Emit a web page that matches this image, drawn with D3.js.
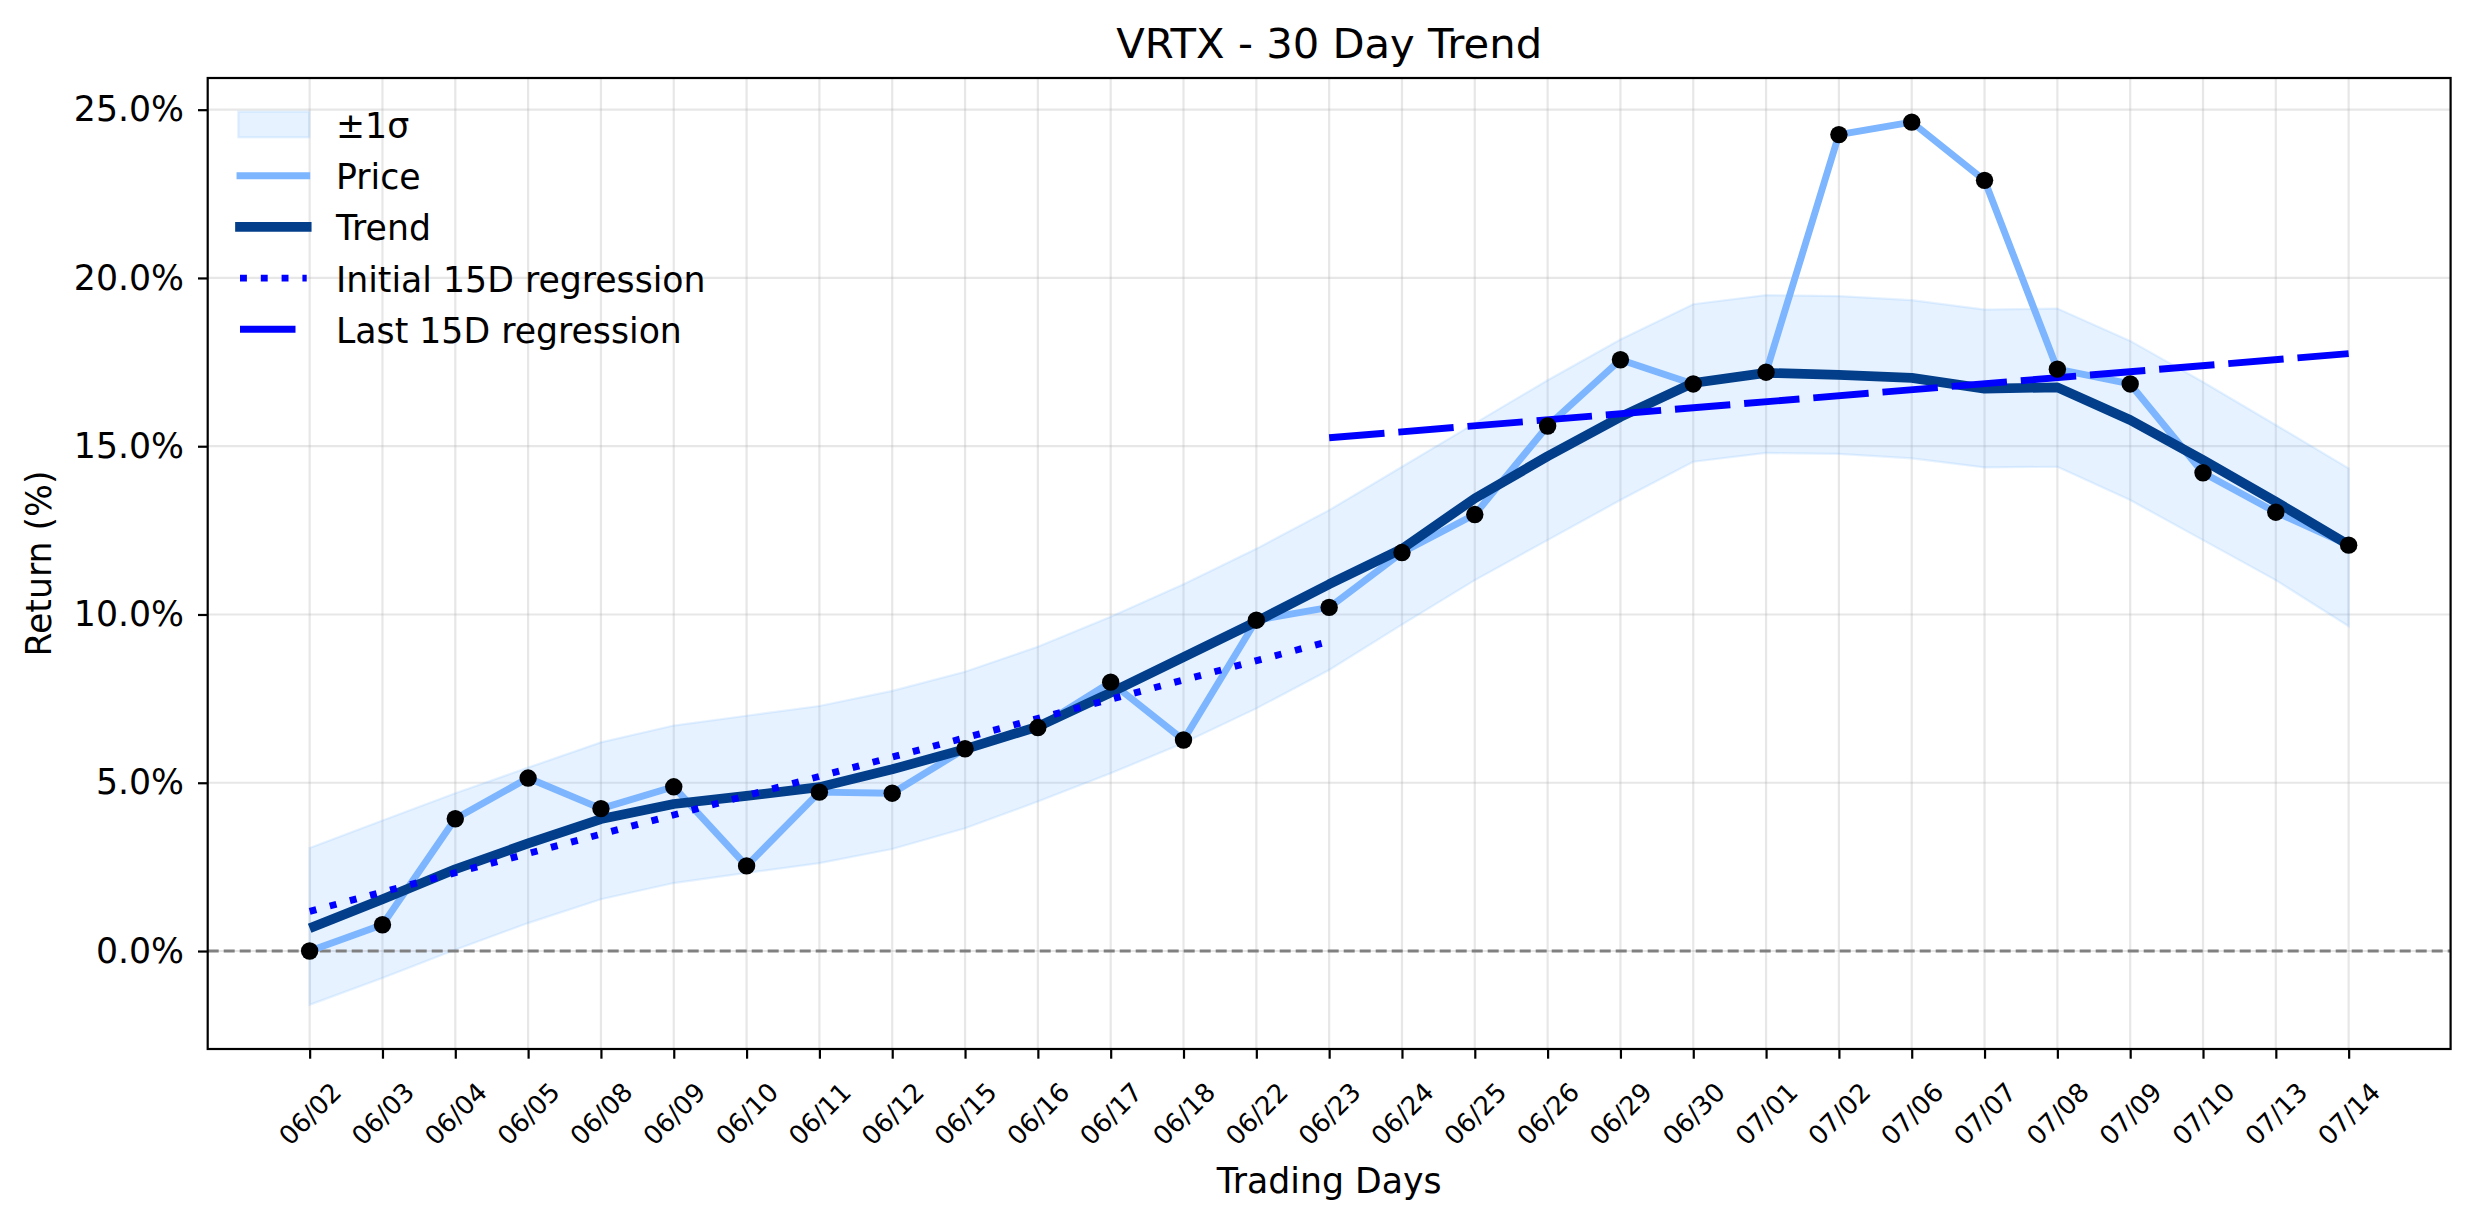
<!DOCTYPE html>
<html>
<head>
<meta charset="utf-8">
<script src="https://cdn.jsdelivr.net/npm/d3@7"></script>
<style>
  body { margin: 0; background: #fff; }
  text { font-family: "DejaVu Sans", sans-serif; fill: #000; }
</style>
</head>
<body>
<div id="chart"></div>
<script>
// data
var dates = ["06/02","06/03","06/04","06/05","06/08","06/09","06/10","06/11","06/12","06/15",
             "06/16","06/17","06/18","06/22","06/23","06/24","06/25","06/26","06/29","06/30",
             "07/01","07/02","07/06","07/07","07/08","07/09","07/10","07/13","07/14"];
var price = [0.0, 0.78, 3.93, 5.14, 4.23, 4.88, 2.53, 4.72, 4.69, 6.01,
             6.64, 7.99, 6.27, 9.83, 10.21, 11.84, 12.97, 15.6, 17.57, 16.85,
             17.2, 24.26, 24.63, 22.9, 17.29, 16.85, 14.21, 13.04, 12.06];
var trend = [0.68, 1.54, 2.43, 3.2, 3.92, 4.37, 4.61, 4.87, 5.4, 6.0,
             6.67, 7.68, 8.73, 9.79, 10.9, 11.95, 13.45, 14.7, 15.87, 16.88,
             17.18, 17.12, 17.03, 16.71, 16.75, 15.78, 14.59, 13.35, 12.07];
var bandUpper = [3.06, 3.88, 4.69, 5.45, 6.2, 6.7, 6.99, 7.28, 7.73, 8.3,
                 9.04, 9.93, 10.9, 11.95, 13.1, 14.39, 15.68, 16.96, 18.17, 19.22,
                 19.49, 19.46, 19.34, 19.06, 19.09, 18.13, 16.91, 15.63, 14.34];
var bandLower = [-1.6, -0.8, 0.04, 0.83, 1.54, 2.02, 2.32, 2.61, 3.03, 3.65,
                 4.44, 5.28, 6.18, 7.21, 8.35, 9.7, 11.02, 12.21, 13.4, 14.54,
                 14.8, 14.77, 14.64, 14.37, 14.39, 13.4, 12.21, 11.02, 9.65];
var initialRegDays = [0, 14];
var initialRegValues = [1.18, 9.2];
var lastRegDays = [14, 28];
var lastRegValues = [15.25, 17.75];
var yTickValues = [0, 5, 10, 15, 20, 25];
var legendLabels = ["\u00b11\u03c3", "Price", "Trend", "Initial 15D regression", "Last 15D regression"];

var W = 2474, H = 1224;
var margin = {top: 78, right: 23.4, bottom: 175, left: 207.7},
    width = W - margin.left - margin.right,
    height = H - margin.top - margin.bottom;

var bandColor = "#74b9ff", priceColor = "#7db5ff", trendColor = "#023e8a", regColor = "#0000ff";
var fontMain = "34.7px";

var svg = d3.select("#chart")
    .append("svg")
    .attr("width", W)
    .attr("height", H);
svg.append("rect").attr("width", W).attr("height", H).attr("fill", "#fff");

var g = svg.append("g")
    .attr("transform", "translate(" + margin.left + "," + margin.top + ")");

// scales with matplotlib-like 5% margins
var xPad = 0.05 * (dates.length - 1);
var x = d3.scaleLinear()
    .domain([-xPad, dates.length - 1 + xPad])
    .range([0, width]);

var yLo = d3.min(bandLower), yHi = d3.max(price);
var yPad = 0.05 * (yHi - yLo);
var y = d3.scaleLinear()
    .domain([yLo - yPad, yHi + yPad])
    .range([height, 0]);

// grid
g.append("g").selectAll("line")
    .data(d3.range(dates.length))
    .enter().append("line")
    .attr("x1", function (d) { return x(d); })
    .attr("x2", function (d) { return x(d); })
    .attr("y1", 0).attr("y2", height)
    .attr("stroke", "#b0b0b0").attr("stroke-opacity", 0.3).attr("stroke-width", 2.2);
g.append("g").selectAll("line")
    .data(yTickValues)
    .enter().append("line")
    .attr("x1", 0).attr("x2", width)
    .attr("y1", function (d) { return y(d); })
    .attr("y2", function (d) { return y(d); })
    .attr("stroke", "#b0b0b0").attr("stroke-opacity", 0.3).attr("stroke-width", 2.2);

// +-1 sigma band
var area = d3.area()
    .x(function (d, i) { return x(i); })
    .y0(function (d, i) { return y(bandLower[i]); })
    .y1(function (d, i) { return y(bandUpper[i]); });
g.append("path")
    .datum(dates)
    .attr("d", area)
    .attr("fill", bandColor).attr("fill-opacity", 0.18)
    .attr("stroke", bandColor).attr("stroke-opacity", 0.18).attr("stroke-width", 2.2);

// zero line
g.append("line")
    .attr("x1", 0).attr("x2", width)
    .attr("y1", y(0)).attr("y2", y(0))
    .attr("stroke", "#808080").attr("stroke-width", 3)
    .attr("stroke-dasharray", "11,5");

var line = d3.line()
    .x(function (d, i) { return x(i); })
    .y(function (d) { return y(d); });

g.append("path")
    .datum(price)
    .attr("d", line)
    .attr("fill", "none")
    .attr("stroke", priceColor).attr("stroke-width", 6.9)
    .attr("stroke-linejoin", "round");

g.append("path")
    .datum(trend)
    .attr("d", line)
    .attr("fill", "none")
    .attr("stroke", trendColor).attr("stroke-width", 9.7)
    .attr("stroke-linejoin", "round");

// regression lines
var regLine = d3.line()
    .x(function (d) { return x(d[0]); })
    .y(function (d) { return y(d[1]); });
g.append("path")
    .datum(d3.zip(initialRegDays, initialRegValues))
    .attr("d", regLine)
    .attr("fill", "none")
    .attr("stroke", regColor).attr("stroke-width", 6.9)
    .attr("stroke-dasharray", "6.9,13.9");
g.append("path")
    .datum(d3.zip(lastRegDays, lastRegValues))
    .attr("d", regLine)
    .attr("fill", "none")
    .attr("stroke", regColor).attr("stroke-width", 6.9)
    .attr("stroke-dasharray", "55.5,13.9");

// price points
g.append("g").selectAll("circle")
    .data(price)
    .enter().append("circle")
    .attr("cx", function (d, i) { return x(i); })
    .attr("cy", function (d) { return y(d); })
    .attr("r", 8.7)
    .attr("fill", "#000");

// frame
g.append("rect")
    .attr("width", width).attr("height", height)
    .attr("fill", "none").attr("stroke", "#000").attr("stroke-width", 2.2);

// x axis
var xAxis = g.append("g")
    .attr("transform", "translate(0," + height + ")")
    .call(d3.axisBottom(x)
        .tickValues(d3.range(dates.length))
        .tickFormat(function (i) { return dates[i]; })
        .tickSize(9.7)
        .tickSizeOuter(0));
xAxis.select(".domain").remove();
xAxis.selectAll(".tick line").attr("stroke", "#000").attr("stroke-width", 2.2);
xAxis.selectAll(".tick text")
    .attr("y", null).attr("dy", null)
    .attr("dominant-baseline", "central")
    .attr("text-anchor", "middle")
    .attr("transform", "translate(0,65) rotate(-45)")
    .style("font-size", "26px")
    .style("font-family", "'DejaVu Sans', sans-serif");

// y axis
var yAxis = g.append("g")
    .call(d3.axisLeft(y)
        .tickValues(yTickValues)
        .tickFormat(function (d) { return d.toFixed(1) + "%"; })
        .tickSize(9.7)
        .tickPadding(14)
        .tickSizeOuter(0));
yAxis.select(".domain").remove();
yAxis.selectAll(".tick line").attr("stroke", "#000").attr("stroke-width", 2.2);
yAxis.selectAll(".tick text")
    .style("font-size", fontMain)
    .style("font-family", "'DejaVu Sans', sans-serif");

// titles
svg.append("text")
    .attr("x", margin.left + width / 2).attr("y", 58)
    .attr("text-anchor", "middle")
    .style("font-size", "41.7px")
    .text("VRTX - 30 Day Trend");
svg.append("text")
    .attr("x", margin.left + width / 2).attr("y", 1192.7)
    .attr("text-anchor", "middle")
    .style("font-size", fontMain)
    .text("Trading Days");
svg.append("text")
    .attr("transform", "translate(39," + (margin.top + height / 2) + ") rotate(-90)")
    .attr("text-anchor", "middle")
    .attr("dominant-baseline", "central")
    .style("font-size", fontMain)
    .text("Return (%)");

// legend (no frame)
var legend = svg.append("g");
var rowY = function (i) { return 124.5 + i * 51.2; };
var hx0 = 240, hx1 = 306.7;

legend.append("rect")
    .attr("x", 238.3).attr("y", rowY(0) - 12.8)
    .attr("width", 71).attr("height", 25.6)
    .attr("fill", bandColor).attr("fill-opacity", 0.18)
    .attr("stroke", bandColor).attr("stroke-opacity", 0.18).attr("stroke-width", 2.2);
legend.append("line")
    .attr("x1", hx0).attr("x2", hx1).attr("y1", rowY(1)).attr("y2", rowY(1))
    .attr("stroke", priceColor).attr("stroke-width", 6.9).attr("stroke-linecap", "square");
legend.append("line")
    .attr("x1", hx0).attr("x2", hx1).attr("y1", rowY(2)).attr("y2", rowY(2))
    .attr("stroke", trendColor).attr("stroke-width", 9.7).attr("stroke-linecap", "square");
legend.append("line")
    .attr("x1", hx0).attr("x2", hx1).attr("y1", rowY(3)).attr("y2", rowY(3))
    .attr("stroke", regColor).attr("stroke-width", 6.9).attr("stroke-dasharray", "6.9,13.9");
legend.append("line")
    .attr("x1", hx0).attr("x2", hx1).attr("y1", rowY(4)).attr("y2", rowY(4))
    .attr("stroke", regColor).attr("stroke-width", 6.9).attr("stroke-dasharray", "55.5,13.9");

legend.selectAll("text")
    .data(legendLabels)
    .enter().append("text")
    .attr("x", 336)
    .attr("y", function (d, i) { return rowY(i) + 13.5; })
    .style("font-size", fontMain)
    .text(function (d) { return d; });
</script>
</body>
</html>
